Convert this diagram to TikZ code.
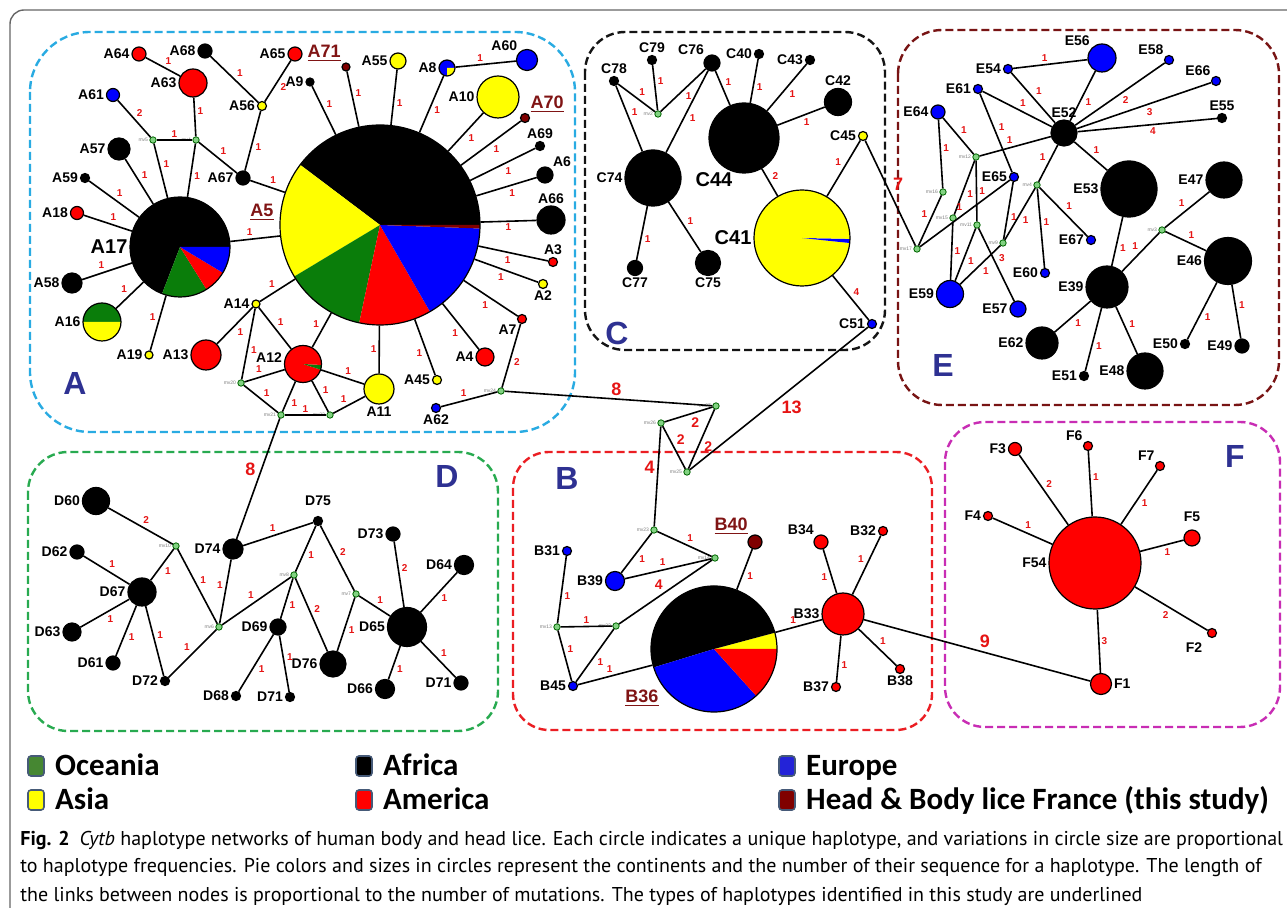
\documentclass[tikz,border=0pt]{standalone}
\usepackage{fontspec}
\setmainfont{Liberation Sans}
\newfontfamily\legfont{Carlito}
\newfontfamily\capfont{PT Sans}
\usetikzlibrary{positioning}

\definecolor{afr}{RGB}{0,0,0}
\definecolor{asi}{RGB}{255,255,0}
\definecolor{oce}{RGB}{10,125,10}
\definecolor{ame}{RGB}{255,0,0}
\definecolor{eur}{RGB}{0,0,255}
\definecolor{fra}{RGB}{128,0,0}
\definecolor{mvg}{RGB}{130,210,130}
\definecolor{mutred}{RGB}{230,20,20}
\definecolor{boxA}{RGB}{41,171,226}
\definecolor{boxB}{RGB}{235,30,35}
\definecolor{boxC}{RGB}{20,20,20}
\definecolor{boxD}{RGB}{40,170,80}
\definecolor{boxE}{RGB}{120,20,20}
\definecolor{boxF}{RGB}{200,45,180}
\definecolor{clus}{RGB}{46,49,146}
\definecolor{undl}{RGB}{128,20,20}
\definecolor{legoce}{RGB}{70,135,50}
\definecolor{legeur}{RGB}{35,35,216}
\definecolor{legedge}{RGB}{70,90,120}

\tikzset{
  hap/.style={circle, draw=black, line width=0.6pt, inner sep=0pt, minimum size=#1*0.5pt},
  mv/.style={circle, draw=black!60!green, fill=mvg, line width=0.4pt, inner sep=0pt, minimum size=3.2pt},
  link/.style={line width=0.8pt},
  mut/.style={auto, text=mutred, font=\bfseries\fontsize{5}{5}\selectfont, inner sep=1pt},
  midmut/.style={mut, font=\bfseries\fontsize{7}{7}\selectfont},
  bigmut/.style={mut, font=\bfseries\fontsize{9}{9}\selectfont},
  every label/.style={font=\bfseries\fontsize{7}{8}\selectfont, inner sep=0.8pt},
  mvlab/.style={font=\fontsize{2.5}{3}\selectfont, text=gray, inner sep=0.5pt},
  biglab/.style={font=\bfseries\fontsize{10}{10}\selectfont},
  ulab/.style={text=undl, font=\bfseries\fontsize{9}{9}\selectfont},
  clusterbox/.style={line width=1.2pt, dash pattern=on 4pt off 2pt},
  clusname/.style={text=clus, font=\bfseries\fontsize{16}{16}\selectfont},
  frame/.style={draw=black!60, line width=0.7pt},
  legbox/.style={draw=legedge, line width=0.8pt, rounded corners=1.5pt, minimum width=8pt, minimum height=10pt, inner sep=0pt},
  legtext/.style={font=\legfont\bfseries\fontsize{15.5}{15.5}\selectfont, inner sep=0pt, text height=11pt, text depth=1pt},
  captext/.style={anchor=west, inner sep=0pt, font=\capfont\fontsize{10}{11}\selectfont}
}

\newcommand{\pieslice}[5]{\fill[#5] (#1) -- ++(-#3:#2) arc[start angle=-#3, end angle=-#4, radius=#2] -- cycle;}

\begin{document}
\begin{tikzpicture}[x=0.5pt, y=-0.5pt]
\useasboundingbox (0,0) rectangle (1287,908);
\fill[white] (0,0) rectangle (1287,908);
\draw[frame, rounded corners=7pt] (10,940) |- (1310,10);

% cluster frames
\draw[clusterbox, draw=boxA, rounded corners=30pt] (30,32) rectangle (575,432);
\draw[clusterbox, draw=boxC, rounded corners=20pt] (585,32) rectangle (885,350);
\draw[clusterbox, draw=boxE, rounded corners=22pt] (898,30) rectangle (1279,405);
\draw[clusterbox, draw=boxD, rounded corners=20pt] (28,452) rectangle (498,731);
\draw[clusterbox, draw=boxB, rounded corners=18pt] (513,452) rectangle (932,730);
\draw[clusterbox, draw=boxF, rounded corners=20pt] (945,422) rectangle (1280,727);
\node[clusname] (labA) at (75,383) {A};
\node[clusname] (labB) at (567,478) {B};
\node[clusname] (labC) at (617,333) {C};
\node[clusname] (labD) at (447,476) {D};
\node[clusname] (labE) at (943,365) {E};
\node[clusname] (labF) at (1235,456) {F};

% pies
\pieslice{380,225}{100}{0}{143}{afr}
\pieslice{380,225}{100}{143}{211}{asi}
\pieslice{380,225}{100}{211}{258}{oce}
\pieslice{380,225}{100}{258}{300}{ame}
\pieslice{380,225}{100}{300}{358}{eur}
\pieslice{380,225}{100}{358}{360}{fra}
\pieslice{180,247}{50}{0}{249}{afr}
\pieslice{180,247}{50}{249}{302}{oce}
\pieslice{180,247}{50}{302}{329}{ame}
\pieslice{180,247}{50}{329}{360}{eur}
\pieslice{102,322}{19}{0}{180}{oce}
\pieslice{102,322}{19}{180}{360}{asi}
\pieslice{303,364}{18.5}{0}{342}{ame}
\pieslice{303,364}{18.5}{342}{357}{oce}
\pieslice{303,364}{18.5}{357}{360}{ame}
\pieslice{447,68}{8}{0}{270}{eur}
\pieslice{447,68}{8}{270}{360}{asi}
\pieslice{802,238}{48}{0}{354}{asi}
\pieslice{802,238}{48}{354}{359}{eur}
\pieslice{802,238}{48}{359}{360}{asi}
\pieslice{714,649}{63}{0}{15}{asi}
\pieslice{714,649}{63}{15}{197}{afr}
\pieslice{714,649}{63}{197}{312}{eur}
\pieslice{714,649}{63}{312}{360}{ame}

% cluster A
\node[hap=200] (A5) at (380,225) {};
\node[ulab] (labA5) at (262,212) {\underline{A5}};
\node[hap=100, label={[biglab]left:A17}] (A17) at (180,247) {};
\node[hap=38, label=left:A16] (A16) at (102,322) {};
\node[hap=37, label={[yshift=3pt]left:A12}] (A12) at (303,364) {};
\node[hap=16, label=left:A8] (A8) at (447,68) {};
\node[hap=14, fill=ame, label=left:A64] (A64) at (139,54) {};
\node[hap=14, fill=afr, label=left:A68] (A68) at (205,51) {};
\node[hap=14, fill=ame, label=left:A65] (A65) at (295,54) {};
\node[hap=28, fill=ame, label=left:A63] (A63) at (193,83) {};
\node[hap=13, fill=eur, label=left:A61] (A61) at (113,95) {};
\node[hap=9, fill=asi, label=left:A56] (A56) at (262,106) {};
\node[hap=8, fill=afr, label=left:A9] (A9) at (310,82) {};
\node[mv, label={[mvlab]left:mv5}] (mvA1) at (153,140) {};
\node[mv, label={[mvlab]left:mv4}] (mvA2) at (196,140) {};
\node[hap=22, fill=afr, label=left:A57] (A57) at (119,149) {};
\node[hap=14, fill=afr, label=left:A67] (A67) at (243,178) {};
\node[hap=9, fill=afr, label=left:A59] (A59) at (85,178) {};
\node[hap=13, fill=ame, label=left:A18] (A18) at (77,213) {};
\node[hap=20, fill=afr, label=left:A58] (A58) at (72,283) {};
\node[hap=8, fill=asi, label=left:A19] (A19) at (149,355) {};
\node[hap=30, fill=ame, label=left:A13] (A13) at (206,355) {};
\node[hap=8, fill=asi, label=left:A14] (A14) at (256,304) {};
\node[mv, label={[mvlab]left:mv20}] (mvA3) at (241,383) {};
\node[mv, label={[mvlab]left:mv21}] (mvA4) at (281,415) {};
\node[mv, label={[mvlab]left:mv22}] (mvA5) at (330,415) {};
\node[hap=30, fill=asi, label=below:A11] (A11) at (379,389) {};
\node[hap=9, fill=asi, label=left:A45] (A45) at (437,380) {};
\node[hap=9, fill=eur, label=below:A62] (A62) at (436,408) {};
\node[hap=18, fill=ame, label=left:A4] (A4) at (485,357) {};
\node[hap=9, fill=ame, label=below left:A7] (A7) at (522,319) {};
\node[mv, label={[mvlab]left:mv24}] (mvA6) at (501,391) {};
\node[hap=9, fill=asi, label=below:A2] (A2) at (543,284) {};
\node[hap=9, fill=ame, label=above:A3] (A3) at (553,262) {};
\node[hap=28, fill=afr, label=above:A66] (A66) at (551,220) {};
\node[hap=16, fill=afr, label=above right:A6] (A6) at (545,175) {};
\node[hap=9, fill=afr, label=above:A69] (A69) at (540,146) {};
\node[hap=9, fill=fra, label={[ulab]above right:\underline{A70}}] (A70) at (525,118) {};
\node[hap=42, fill=asi, label=left:A10] (A10) at (498,97) {};
\node[hap=21, fill=eur, label=above left:A60] (A60) at (527,60) {};
\node[hap=16, fill=asi, label=left:A55] (A55) at (398,61) {};
\node[hap=8, fill=fra, label={[ulab]above left:\underline{A71}}] (A71) at (346,67) {};

\foreach \a/\b/\m in {A64/A63/1, A63/mvA2/1, A61/mvA1/2, mvA1/mvA2/1, mvA1/A17/1,
    mvA2/A17/1, mvA2/A67/1, A68/A56/1, A65/A56/2, A56/A67/1, A8/A60/1,
    A14/A13/1, A14/A12/1, A14/mvA3/1, mvA3/A12/1, mvA3/mvA4/1, A12/mvA4/1,
    A12/mvA5/1, A12/A11/1, mvA4/mvA5/1, mvA5/A11/1, A7/mvA6/2, A62/mvA6/1}
  \draw[link] (\a) -- node[mut]{\m} (\b);
\foreach \h in {A57,A59,A18,A58,A16,A19}
  \draw[link] (\h) -- node[mut]{1} (A17);
\foreach \h in {A67,A17,A9,A71,A55,A8,A10,A70,A69,A6,A66,A3,A2,A7,A4,A45,A11,A12,A14}
  \draw[link] (\h) -- node[mut]{1} (A5);

% cluster C
\node[hap=96, label={[biglab]left:C41}] (C41) at (802,238) {};
\node[hap=9, fill=afr, label=above:C79] (C79) at (652,60) {};
\node[hap=16, fill=afr, label=above left:C76] (C76) at (712,63) {};
\node[hap=9, fill=afr, label=above:C78] (C78) at (614,81) {};
\node[hap=9, fill=afr, label=left:C40] (C40) at (759,54) {};
\node[hap=9, fill=afr, label=left:C43] (C43) at (810,60) {};
\node[hap=27, fill=afr, label=above:C42] (C42) at (838,102) {};
\node[mv, label={[mvlab]left:mv2}] (mvC2) at (658,114) {};
\node[hap=70, fill=afr] (C44) at (744,138) {};
\node[biglab] (labC44) at (714,180) {C44};
\node[hap=56, fill=afr, label=left:C74] (C74) at (653,178) {};
\node[hap=15, fill=afr, label=below:C77] (C77) at (635,268) {};
\node[hap=25, fill=afr, label=below:C75] (C75) at (708,263) {};
\node[hap=9, fill=asi, label=left:C45] (C45) at (863,136) {};
\node[hap=9, fill=eur, label=left:C51] (C51) at (872,324) {};

\foreach \a/\b/\m in {C78/mvC2/1, C79/mvC2/1, C76/mvC2/1, C78/C74/1, C76/C74/1,
    C76/C44/1, C40/C44/1, C43/C44/1, C42/C44/1, C44/C41/2, C74/C77/1,
    C74/C75/1, C41/C45/1, C41/C51/4}
  \draw[link] (\a) -- node[mut]{\m} (\b);

% cluster E
\node[hap=28, fill=eur, label=above left:E56] (E56) at (1102,58) {};
\node[hap=9, fill=eur, label=left:E54] (E54) at (1008,69) {};
\node[hap=9, fill=eur, label=above left:E58] (E58) at (1169,60) {};
\node[hap=9, fill=eur, label=above left:E66] (E66) at (1216,81) {};
\node[hap=9, fill=afr, label=above:E55] (E55) at (1222,118) {};
\node[hap=9, fill=eur, label=left:E61] (E61) at (978,89) {};
\node[hap=14, fill=eur, label=left:E64] (E64) at (938,112) {};
\node[hap=26, fill=afr, label=above:E52] (E52) at (1064,133) {};
\node[mv, label={[mvlab]left:mv12}] (mvE12) at (976,157) {};
\node[mv, label={[mvlab]left:mv16}] (mvE16) at (943,192) {};
\node[mv, label={[mvlab]left:mv15}] (mvE15) at (953,218) {};
\node[mv, label={[mvlab]left:mv11}] (mvE11) at (977,225) {};
\node[mv, label={[mvlab]left:mv17}] (mvE17) at (917,249) {};
\node[mv, label={[mvlab]left:mv9}] (mvE9) at (1003,243) {};
\node[mv, label={[mvlab]left:mv4}] (mvE4) at (1037,185) {};
\node[mv, label={[mvlab]left:mv3}] (mvE3) at (1162,230) {};
\node[hap=9, fill=eur, label=left:E65] (E65) at (1014,177) {};
\node[hap=9, fill=eur, label=left:E67] (E67) at (1091,240) {};
\node[hap=9, fill=eur, label=left:E60] (E60) at (1045,273) {};
\node[hap=56, fill=afr, label=left:E53] (E53) at (1129,189) {};
\node[hap=36, fill=afr, label=left:E47] (E47) at (1224,180) {};
\node[hap=47, fill=afr, label=left:E46] (E46) at (1228,261) {};
\node[hap=42, fill=afr, label=left:E39] (E39) at (1107,287) {};
\node[hap=27, fill=eur, label=left:E59] (E59) at (950,294) {};
\node[hap=16, fill=eur, label=left:E57] (E57) at (1018,309) {};
\node[hap=32, fill=afr, label=left:E62] (E62) at (1042,343) {};
\node[hap=9, fill=afr, label=left:E51] (E51) at (1084,376) {};
\node[hap=36, fill=afr, label=left:E48] (E48) at (1145,371) {};
\node[hap=9, fill=afr, label=left:E50] (E50) at (1185,344) {};
\node[hap=14, fill=afr, label=left:E49] (E49) at (1242,346) {};

\foreach \a/\b/\m in {E54/E56/1, E54/E52/1, E56/E52/1, E58/E52/2, E66/E52/3,
    E55/E52/4, E61/E52/1, E61/E65/1, E64/mvE12/1, E64/mvE16/1, mvE12/E52/1,
    mvE12/mvE15/1, mvE12/mvE11/1, mvE17/mvE16/1, mvE17/E65/1, mvE15/E59/1,
    mvE11/E59/1, mvE11/E57/3, E65/mvE9/1, mvE9/E59/1, mvE4/mvE9/1, mvE4/E52/1,
    mvE4/E60/1, mvE4/E67/1, E52/E53/1, E53/E39/1, E39/mvE3/1, mvE3/E47/1,
    mvE3/E46/1, E39/E62/1, E39/E51/1, E39/E48/1, E46/E50/1, E46/E49/1}
  \draw[link] (\a) -- node[mut]{\m} (\b);

% cluster D
\node[hap=27, fill=afr, label=left:D60] (D60) at (96,501) {};
\node[mv, label={[mvlab]left:mv10}] (mvD10) at (176,546) {};
\node[hap=14, fill=afr, label=left:D62] (D62) at (77,552) {};
\node[hap=28, fill=afr, label=left:D67] (D67) at (142,592) {};
\node[hap=18, fill=afr, label=left:D63] (D63) at (72,632) {};
\node[hap=14, fill=afr, label=left:D61] (D61) at (113,663) {};
\node[hap=9, fill=afr, label=left:D72] (D72) at (165,681) {};
\node[mv, label={[mvlab]left:mv6}] (mvD6) at (219,627) {};
\node[hap=20, fill=afr, label=left:D74] (D74) at (233,549) {};
\node[hap=9, fill=afr, label={[label distance=4pt]above:D75}] (D75) at (318,521) {};
\node[mv, label={[mvlab]left:mv8}] (mvD8) at (294,575) {};
\node[mv, label={[mvlab]left:mv7}] (mvD7) at (356,594) {};
\node[hap=16, fill=afr, label=left:D69] (D69) at (278,627) {};
\node[hap=9, fill=afr, label=left:D68] (D68) at (236,696) {};
\node[hap=9, fill=afr, label=left:D71] (D71a) at (290,697) {};
\node[hap=26, fill=afr, label=left:D76] (D76) at (333,664) {};
\node[hap=14, fill=afr, label=left:D73] (D73) at (393,534) {};
\node[hap=19, fill=afr, label=left:D64] (D64) at (464,565) {};
\node[hap=39, fill=afr, label=left:D65] (D65) at (407,627) {};
\node[hap=19, fill=afr, label=left:D66] (D66) at (385,689) {};
\node[hap=14, fill=afr, label=left:D71] (D71b) at (461,683) {};

\foreach \a/\b/\m in {D60/mvD10/2, mvD10/D67/1, mvD10/mvD6/1, D62/D67/1, D67/D63/1,
    D67/D61/1, D67/D72/1, D72/mvD6/1, mvD6/D74/1, mvD6/mvD8/1, D74/D75/1,
    D75/mvD8/1, D75/mvD7/2, mvD8/D69/1, mvD8/D76/2, mvD7/D76/1, mvD7/D65/1,
    D69/D68/1, D69/D71a/1, D73/D65/2, D64/D65/1, D65/D66/1, D65/D71b/1}
  \draw[link] (\a) -- node[mut]{\m} (\b);

% cluster B
\node[hap=126] (B36) at (714,649) {};
\node[ulab] (labB36) at (642,698) {\underline{B36}};
\node[mv, label={[mvlab]left:mv27}] (mvB1) at (716,406) {};
\node[mv, label={[mvlab]left:mv26}] (mvB2) at (661,423) {};
\node[mv, label={[mvlab]left:mv25}] (mvB3) at (687,472) {};
\node[mv, label={[mvlab]left:mv23}] (mvB4) at (654,530) {};
\node[mv, label={[mvlab]left:mv14}] (mvB5) at (715,558) {};
\node[mv, label={[mvlab]left:mv13}] (mvB6) at (557,627) {};
\node[mv, label={[mvlab]left:mv22}] (mvB7) at (616,626) {};
\node[hap=19, fill=eur, label=left:B39] (B39) at (615,581) {};
\node[hap=9, fill=eur, label=left:B31] (B31) at (567,551) {};
\node[hap=9, fill=eur, label=left:B45] (B45) at (573,686) {};
\node[hap=14, fill=fra, label={[ulab]above left:\underline{B40}}] (B40) at (755,542) {};
\node[hap=42, fill=ame, label=left:B33] (B33) at (843,614) {};
\node[hap=14, fill=ame, label=above left:B34] (B34) at (821,542) {};
\node[hap=9, fill=ame, label=left:B32] (B32) at (883,531) {};
\node[hap=9, fill=ame, label=left:B37] (B37) at (836,687) {};
\node[hap=9, fill=ame, label=below:B38] (B38) at (900,669) {};

\foreach \a/\b/\m in {mvB4/B39/1, mvB4/mvB5/1, B39/mvB5/1, B31/mvB6/1, mvB6/mvB7/1,
    mvB6/B45/1, mvB7/B45/1, B45/B36/1, B40/B36/1, B36/B33/1, B33/B34/1,
    B33/B32/1, B33/B37/1, B33/B38/1}
  \draw[link] (\a) -- node[mut]{\m} (\b);
\foreach \a/\b/\m in {mvB1/mvB2/2, mvB1/mvB3/2, mvB2/mvB3/2}
  \draw[link] (\a) -- node[midmut]{\m} (\b);
\draw[link] (mvB5) -- node[midmut, swap]{4} (mvB7);

% cluster F
\node[hap=92, fill=ame, label=left:F54] (F54) at (1095,563) {};
\node[hap=13, fill=ame, label=left:F3] (F3) at (1015,449) {};
\node[hap=9, fill=ame, label=above left:F6] (F6) at (1088,446) {};
\node[hap=9, fill=ame, label=above left:F7] (F7) at (1160,466) {};
\node[hap=9, fill=ame, label=left:F4] (F4) at (988,516) {};
\node[hap=16, fill=ame, label={[label distance=3pt]above:F5}] (F5) at (1192,538) {};
\node[hap=9, fill=ame, label={[label distance=3pt]below left:F2}] (F2) at (1212,633) {};
\node[hap=21, fill=ame, label=right:F1] (F1) at (1101,684) {};

\foreach \a/\b/\m in {F3/F54/2, F6/F54/1, F7/F54/1, F4/F54/1, F5/F54/1, F2/F54/2, F54/F1/3}
  \draw[link] (\a) -- node[mut]{\m} (\b);

% links between clusters
\draw[link] (mvA6) -- node[bigmut]{8} (mvB1);
\draw[link] (mvA4) -- node[bigmut, swap]{8} (D74);
\draw[link] (mvB3) -- node[bigmut, swap]{13} (C51);
\draw[link] (mvB2) -- node[bigmut, swap]{4} (mvB4);
\draw[link] (C45) -- node[bigmut]{7} (mvE17);
\draw[link] (B33) -- node[bigmut]{9} (F1);

% legend
\node[legbox, fill=legoce] (kOce) at (36,766) {};
\node[legtext, right=5pt of kOce] (tOce) {Oceania};
\node[legbox, fill=asi] (kAsi) at (36,800) {};
\node[legtext, right=5pt of kAsi] (tAsi) {Asia};
\node[legbox, fill=afr] (kAfr) at (364,766) {};
\node[legtext, right=5pt of kAfr] (tAfr) {Africa};
\node[legbox, fill=ame] (kAme) at (364,800) {};
\node[legtext, right=5pt of kAme] (tAme) {America};
\node[legbox, fill=legeur] (kEur) at (787,766) {};
\node[legtext, right=5pt of kEur] (tEur) {Europe};
\node[legbox, fill=fra] (kFra) at (787,800) {};
\node[legtext, right=5pt of kFra] (tFra) {Head \& Body lice France (this study)};

% caption
\node[captext] (cap1) at (20,840) {\textbf{Fig. 2}\enspace\textit{Cytb} haplotype networks of human body and head lice. Each circle indicates a unique haplotype, and variations in circle size are proportional};
\node[captext] (cap2) at (20,868) {to haplotype frequencies. Pie colors and sizes in circles represent the continents and the number of their sequence for a haplotype. The length of};
\node[captext] (cap3) at (20,896) {the links between nodes is proportional to the number of mutations. The types of haplotypes identified in this study are underlined};
\end{tikzpicture}
\end{document}
